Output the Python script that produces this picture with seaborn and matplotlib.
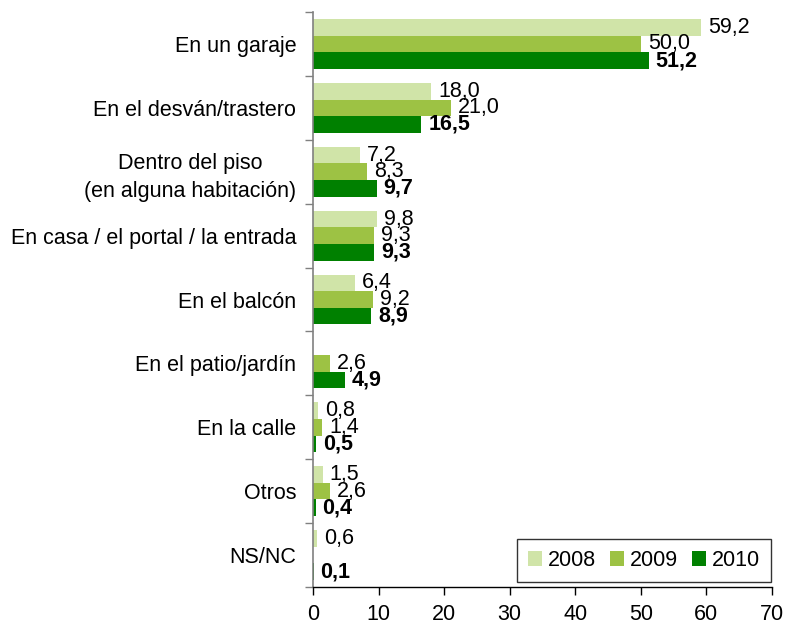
import numpy as np
import pandas as pd
import matplotlib
matplotlib.use("Agg")
import matplotlib.pyplot as plt
import seaborn as sns

categories = ["En un garaje", "En el desván/trastero",
              "Dentro del piso\n(en alguna habitación)",
              "En casa / el portal / la entrada", "En el balcón",
              "En el patio/jardín", "En la calle", "Otros", "NS/NC"]
years = ["2008", "2009", "2010"]
v2008 = [59.2, 18.0, 7.2, 9.8, 6.4, np.nan, 0.8, 1.5, 0.6]
v2009 = [50.0, 21.0, 8.3, 9.3, 9.2, 2.6, 1.4, 2.6, np.nan]
v2010 = [51.2, 16.5, 9.7, 9.3, 8.9, 4.9, 0.5, 0.4, 0.1]
colors = ["#d0e4a8", "#9dc244", "#008000"]

rows = []
for y, vals in zip(years, [v2008, v2009, v2010]):
    for c, v in zip(categories, vals):
        rows.append({"cat": c, "year": y, "val": v})
df = pd.DataFrame(rows)

sns.set_style("white")
plt.rcParams["font.family"] = ["Liberation Sans", "DejaVu Sans"]
plt.rcParams["text.color"] = "black"
FS = 15.5

fig = plt.figure(figsize=(7.87, 6.24), dpi=100)
ax = fig.add_axes([313/787, 1 - 587/624, (772-313)/787, (587-12)/624])

sns.barplot(data=df, y="cat", x="val", hue="year", order=categories,
            hue_order=years, palette=colors, orient="h", width=0.78,
            gap=0, saturation=1, ax=ax, errorbar=None, edgecolor="none")

def fmt(v):
    return ("%.1f" % v).replace(".", ",")

for i, cont in enumerate(ax.containers):
    labs = [fmt(v) if np.isfinite(v) else "" for v in cont.datavalues]
    ax.bar_label(cont, labels=labs, padding=5, fontsize=FS,
                 fontweight="bold" if i == 2 else "normal", color="black")

ax.set_xlim(0, 70)
ax.set_xticks(range(0, 71, 10))
ax.set_ylim(len(categories) - 0.5, -0.5)
ax.set_yticks(np.arange(-0.5, len(categories), 1.0), minor=False)
ax.set_yticklabels([])
ax.set_yticks(np.arange(len(categories)), minor=True)
ax.set_yticklabels(categories, minor=True)
for lab in ax.get_yticklabels(minor=True):
    lab.set_multialignment("center")
    lab.set_linespacing(1.45)
ax.tick_params(axis="y", which="minor", length=0, pad=12, labelsize=FS, labelcolor="black")
ax.tick_params(axis="y", which="major", length=6, width=1, color="#808080", direction="out", left=True)
ax.tick_params(axis="x", length=6, width=1, color="black", direction="out", bottom=True,
               labelsize=FS, pad=6, labelcolor="black")
ax.set_xlabel("")
ax.set_ylabel("")
for s in ["top", "right"]:
    ax.spines[s].set_visible(False)
ax.spines["left"].set_color("#808080")
ax.spines["left"].set_linewidth(1.2)
ax.spines["bottom"].set_color("black")
ax.spines["bottom"].set_linewidth(1)

leg = ax.legend(title=None, ncol=3, loc="lower right", bbox_to_anchor=(0.998, 0.009),
                borderaxespad=0, fontsize=FS, frameon=True, fancybox=False, edgecolor="black",
                handlelength=0.65, handleheight=0.65, handletextpad=0.28,
                columnspacing=0.65, borderpad=0.5)
leg.get_frame().set_linewidth(1)
for t in leg.get_texts():
    t.set_color("black")

fig.savefig("out.png", dpi=100)
